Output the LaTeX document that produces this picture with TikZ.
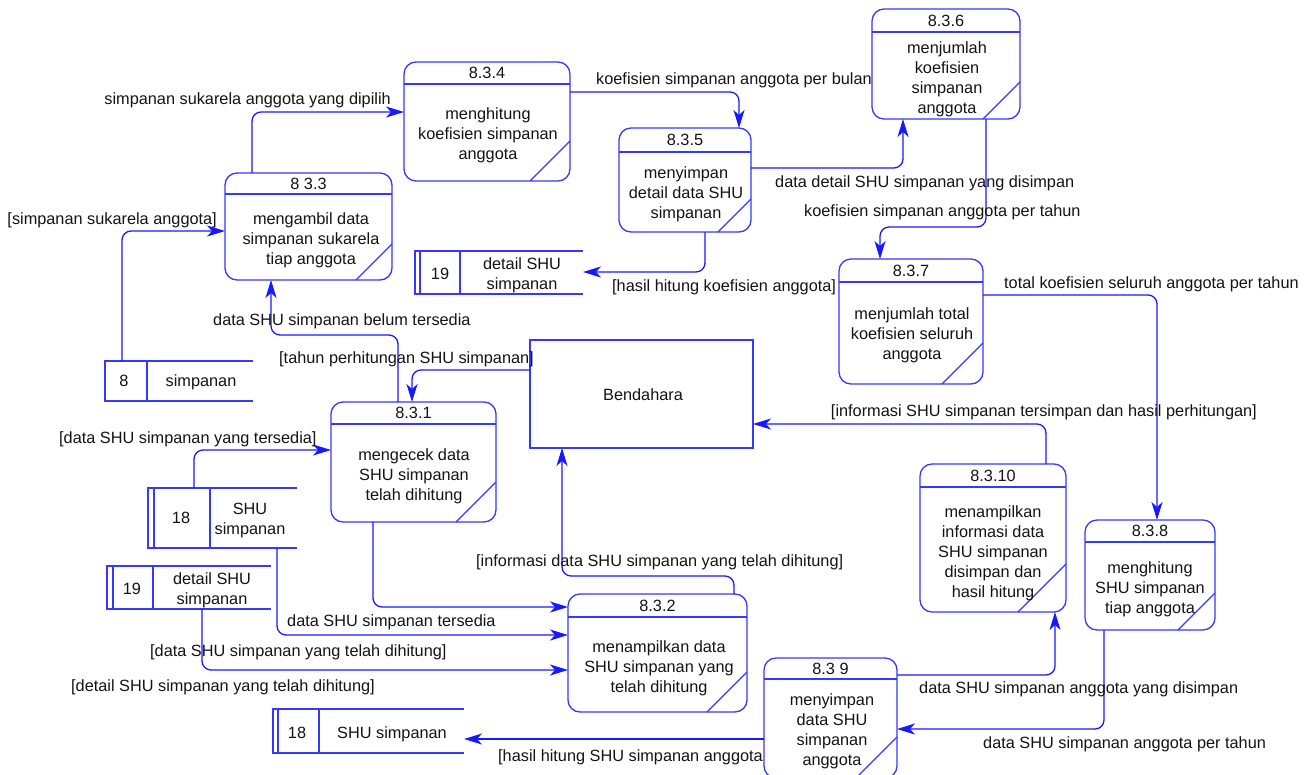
\documentclass[tikz,border=0pt]{standalone}
\usepackage{fontspec}
\setmainfont{Liberation Sans}
\usetikzlibrary{arrows.meta}

\definecolor{flowblue}{RGB}{25,25,255}
\definecolor{boxblue}{RGB}{55,55,255}
\definecolor{inktext}{RGB}{20,20,20}

\tikzset{
  procshape/.style={rectangle, draw=boxblue, fill=white, line width=1.3pt,
    rounded corners=12pt, inner sep=0pt, outer sep=0pt},
  storeshape/.style={rectangle, inner sep=0pt, outer sep=0pt},
  entityshape/.style={rectangle, draw=boxblue, fill=white, line width=1.3pt,
    inner sep=0pt, outer sep=0pt},
  boxline/.style={draw=boxblue, line width=1.3pt},
  flow/.style={draw=flowblue, line width=1.3pt, rounded corners=9pt,
    -{Stealth[length=18pt,width=11pt,inset=5pt]}},
  lbl/.style={inner sep=0pt, text height=11.8pt, text depth=0pt, text=inktext,
    font=\fontsize{16.3}{20}\selectfont},
  body/.style={inner sep=0pt, align=center, text=inktext,
    font=\fontsize{16.3}{20}\selectfont},
}

% process: name, left, top, right, bottom, header y, corner cut, number
\newcommand{\procbox}[8]{%
  \node[procshape, minimum width={(#4)-(#2)}, minimum height={(#5)-(#3)}]
    (#1) at ({((#2)+(#4))/2},{((#3)+(#5))/2}) {};
  \draw[boxline] (#1.west |- 0,#6) -- (#1.east |- 0,#6);
  \draw[boxline] ([xshift=-#7pt]#1.south east) -- ([yshift=#7pt]#1.south east);
  \node[lbl] (#1n) at ({((#2)+(#4))/2},{((#3)+(#6))/2}) {#8};
}

% data store: name, left, top, right, bottom, divider x
\newcommand{\datastore}[6]{%
  \node[storeshape, minimum width={(#4)-(#2)}, minimum height={(#5)-(#3)}]
    (#1) at ({((#2)+(#4))/2},{((#3)+(#5))/2}) {};
  \draw[boxline] (#1.north east) -- (#1.north west) -- (#1.south west) -- (#1.south east);
  \draw[boxline] (#6,0 |- #1.north) -- (#6,0 |- #1.south);
}

\begin{document}
\begin{tikzpicture}[x=1pt, y=-1pt]
\useasboundingbox (0,0) rectangle (1314,774);
\clip (0,0) rectangle (1314,774);
\fill[white] (0,0) rectangle (1314,774);

% ---------- processes ----------
\procbox{p33}{225}{173}{392}{280}{194}{36}{8 3.3}
\procbox{p34}{404}{62}{570}{181}{84}{40}{8.3.4}
\procbox{p35}{619}{128}{751}{232}{152}{33}{8.3.5}
\procbox{p36}{872}{9}{1020}{119}{32}{37}{8.3.6}
\procbox{p37}{839}{259}{983}{384}{282}{41}{8.3.7}
\procbox{p31}{331}{402}{496}{522}{424}{40}{8.3.1}
\procbox{p32}{568}{594}{747}{712}{617}{40}{8.3.2}
\procbox{p39}{764}{658}{897}{778}{679}{41}{8.3 9}
\procbox{p310}{920}{464}{1066}{612}{487}{48}{8.3.10}
\procbox{p38}{1085}{520}{1215}{630}{542}{37}{8.3.8}

\node[body] (p33t) at (311,240) {mengambil data\\simpanan sukarela\\tiap anggota};
\node[body] (p34t) at (488,135) {menghitung\\koefisien simpanan\\anggota};
\node[body] (p35t) at (686,194.5) {menyimpan\\detail data SHU\\simpanan};
\node[body] (p36t) at (947,79) {menjumlah\\koefisien\\simpanan\\anggota};
\node[body] (p37t) at (912,335) {menjumlah total\\koefisien seluruh\\anggota};
\node[body] (p31t) at (414,476) {mengecek data\\SHU simpanan\\telah dihitung};
\node[body] (p32t) at (659,668) {menampilkan data\\SHU simpanan yang\\telah dihitung};
\node[body] (p39t) at (832,731) {menyimpan\\data SHU\\simpanan\\anggota};
\node[body] (p310t) at (993,553) {menampilkan\\informasi data\\SHU simpanan\\disimpan dan\\hasil hitung};
\node[body] (p38t) at (1150,589) {menghitung\\SHU simpanan\\tiap anggota};

% ---------- external entity ----------
\node[entityshape, minimum width=223pt, minimum height=108pt] (bend) at (641.5,394) {};
\node[lbl] (bendt) at (643,395) {Bendahara};

% ---------- data stores ----------
\datastore{s19t}{415}{251}{583}{294}{460}
\draw[boxline] (420,0 |- s19t.north) -- (420,0 |- s19t.south);
\node[lbl] (s19tn) at (440,274) {19};
\node[body] (s19tt) at (522,275) {detail SHU\\simpanan};

\datastore{s8}{105}{361}{253}{401}{147}
\node[lbl] (s8n) at (124,381) {8};
\node[lbl] (s8t) at (201,381) {simpanan};

\datastore{s18}{148}{488}{297}{548}{210}
\draw[boxline] (154,0 |- s18.north) -- (154,0 |- s18.south);
\node[lbl] (s18n) at (181,518) {18};
\node[body] (s18t) at (250,520) {SHU\\simpanan};

\datastore{s19l}{107}{566}{271}{609}{153}
\draw[boxline] (113,0 |- s19l.north) -- (113,0 |- s19l.south);
\node[lbl] (s19ln) at (132,589) {19};
\node[body] (s19lt) at (212,590) {detail SHU\\simpanan};

\datastore{s18b}{273}{709}{464}{753}{319}
\draw[boxline] (278,0 |- s18b.north) -- (278,0 |- s18b.south);
\node[lbl] (s18bn) at (297,733) {18};
\node[lbl] (s18bt) at (392,733) {SHU simpanan};

% ---------- data flows ----------
\draw[flow] (122,0 |- s8.north) |- (p33.west |- 0,231);
\draw[flow] (252,0 |- p33.north) |- (p34.west |- 0,112);
\draw[flow] (p34.east |- 0,92) -| (739,0 |- p35.north);
\draw[flow] (p35.east |- 0,168) -| (903,0 |- p36.south);
\draw[flow] (705,0 |- p35.south) |- (s19t.east |- 0,272);
\draw[flow] (986,0 |- p36.south) |- (933,227) -| (880,0 |- p37.north);
\draw[flow] (p37.east |- 0,295) -| (1157,0 |- p38.north);
\draw[flow] (1104,0 |- p38.south) |- (p39.east |- 0,729);
\draw[flow] (p39.east |- 0,675) -| (1055,0 |- p310.south);
\draw[flow] (1046,0 |- p310.north) |- (bend.east |- 0,424);
\draw[flow] (p39.west |- 0,739) -- (s18b.east |- 0,739);
\draw[flow] (bend.west |- 0,370) -| (412,0 |- p31.north);
\draw[flow] (398,0 |- p31.north) |- (330,335) -| (271,0 |- p33.south);
\draw[flow] (194,0 |- s18.north) |- (p31.west |- 0,450);
\draw[flow] (373,0 |- p31.south) |- (p32.west |- 0,607);
\draw[flow] (277,0 |- s18.south) |- (p32.west |- 0,635);
\draw[flow] (202,0 |- s19l.south) |- (p32.west |- 0,670);
\draw[flow] (734,0 |- p32.north) |- (650,576) -| (562,0 |- bend.south);

% ---------- flow labels ----------
\node[lbl, anchor=east] (l1) at (217,219) {[simpanan sukarela anggota]};
\node[lbl, anchor=east] (l2) at (391,99) {simpanan sukarela anggota yang dipilih};
\node[lbl, anchor=west] (l3) at (596,79) {koefisien simpanan anggota per bulan};
\node[lbl, anchor=west] (l4) at (775,182) {data detail SHU simpanan yang disimpan};
\node[lbl, anchor=west] (l5) at (612,286) {[hasil hitung koefisien anggota]};
\node[lbl, anchor=west] (l6) at (804,211) {koefisien simpanan anggota per tahun};
\node[lbl, anchor=west] (l7) at (1004,283) {total koefisien seluruh anggota per tahun};
\node[lbl, anchor=west] (l8) at (983,743) {data SHU simpanan anggota per tahun};
\node[lbl, anchor=west] (l9) at (919,688) {data SHU simpanan anggota yang disimpan};
\node[lbl, anchor=east] (l10) at (1257,411) {[informasi SHU simpanan tersimpan dan hasil perhitungan]};
\node[lbl, anchor=west] (l11) at (498,756) {[hasil hitung SHU simpanan anggota};
\node[lbl, anchor=west] (l12) at (279,358) {[tahun perhitungan SHU simpanan]};
\node[lbl, anchor=west] (l13) at (213,320) {data SHU simpanan belum tersedia};
\node[lbl, anchor=west] (l14) at (59,438) {[data SHU simpanan yang tersedia]};
\node[lbl, anchor=west] (l15) at (287,621) {data SHU simpanan tersedia};
\node[lbl, anchor=west] (l16) at (150,651) {[data SHU simpanan yang telah dihitung]};
\node[lbl, anchor=west] (l17) at (71,686) {[detail SHU simpanan yang telah dihitung]};
\node[lbl, anchor=west] (l18) at (476,561) {[informasi data SHU simpanan yang telah dihitung]};
\end{tikzpicture}
\end{document}
